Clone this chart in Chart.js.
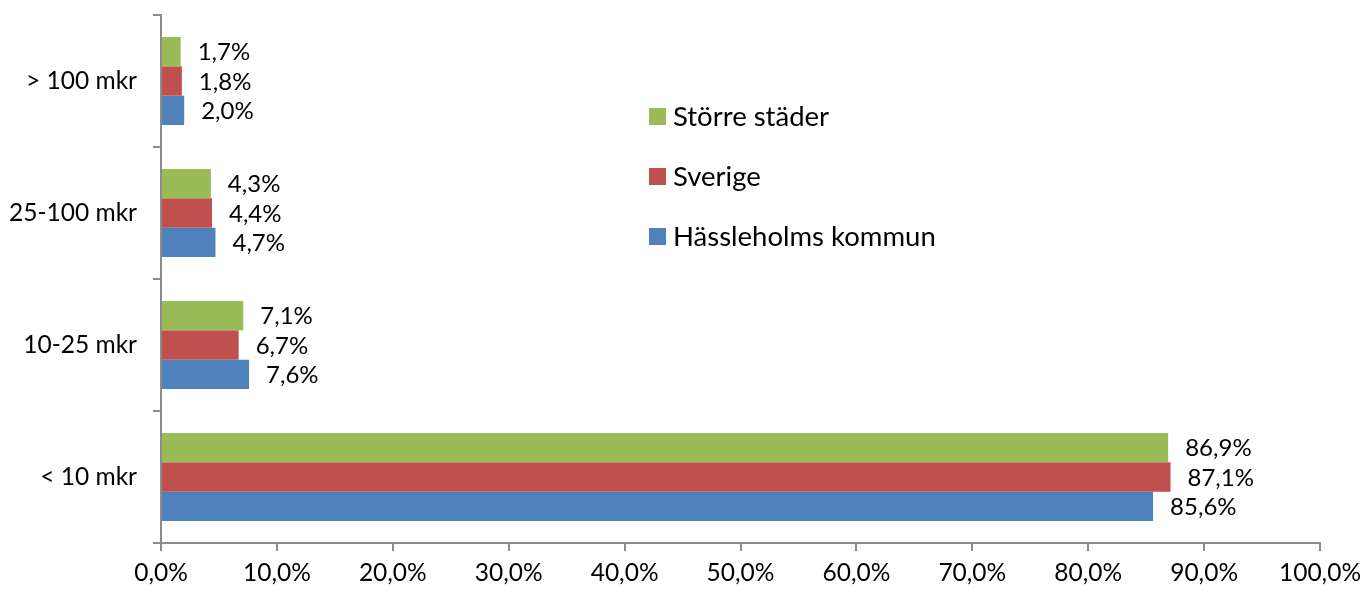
<!DOCTYPE html>
<html>
<head>
<meta charset="utf-8">
<script src="https://cdn.jsdelivr.net/npm/chart.js@4/dist/chart.umd.min.js"></script>
<style>
html,body{margin:0;padding:0;background:#fff;}
#wrap{width:1364px;height:590px;position:relative;}
</style>
</head>
<body>
<div id="wrap"><canvas id="c" width="1364" height="590"></canvas></div>
<script>
const categories = ['> 100 mkr', '25-100 mkr', '10-25 mkr', '< 10 mkr'];
const storreStader = [1.7, 4.3, 7.1, 86.9];
const sverige = [1.8, 4.4, 6.7, 87.1];
const hassleholm = [2.0, 4.7, 7.6, 85.6];
const seriesNames = ['Större städer', 'Sverige', 'Hässleholms kommun'];
const xTicks = [0, 10, 20, 30, 40, 50, 60, 70, 80, 90, 100];

const FONT = 'Lato, "Open Sans", sans-serif';
const colors = ['#9BBB59', '#C0504D', '#4F81BD'];
const fmt = v => v.toFixed(1).replace('.', ',') + '%';

const valueLabels = {
  id: 'valueLabels',
  afterDatasetsDraw(chart) {
    const ctx = chart.ctx;
    ctx.save();
    ctx.font = '24px ' + FONT;
    ctx.fillStyle = '#000';
    ctx.textAlign = 'left';
    ctx.textBaseline = 'middle';
    chart.data.datasets.forEach((ds, i) => {
      chart.getDatasetMeta(i).data.forEach((bar, j) => {
        ctx.fillText(fmt(ds.data[j]), bar.x + 17, bar.y + 1);
      });
    });
    ctx.restore();
  }
};

const customLegend = {
  id: 'customLegend',
  afterDraw(chart) {
    const ctx = chart.ctx;
    ctx.save();
    ctx.font = '27.5px ' + FONT;
    ctx.textBaseline = 'middle';
    ctx.textAlign = 'left';
    seriesNames.forEach((name, i) => {
      const cy = 116 + i * 60;
      ctx.fillStyle = colors[i];
      ctx.fillRect(649, cy - 8, 17, 17);
      ctx.fillStyle = '#000';
      ctx.fillText(name, 673, cy + 1);
    });
    ctx.restore();
  }
};

new Chart(document.getElementById('c'), {
  type: 'bar',
  data: {
    labels: categories,
    datasets: [
      { label: seriesNames[0], data: storreStader, backgroundColor: colors[0] },
      { label: seriesNames[1], data: sverige, backgroundColor: colors[1] },
      { label: seriesNames[2], data: hassleholm, backgroundColor: colors[2] }
    ]
  },
  options: {
    indexAxis: 'y',
    responsive: false,
    animation: false,
    devicePixelRatio: 1,
    layout: { padding: { left: 0, right: 44, top: 15, bottom: 0 } },
    datasets: { bar: { categoryPercentage: 0.667, barPercentage: 1.0 } },
    plugins: { legend: { display: false }, tooltip: { enabled: false } },
    scales: {
      x: {
        min: 0, max: 100,
        afterBuildTicks(scale) { scale.ticks = xTicks.map(v => ({ value: v })); },
        afterFit(scale) {
          scale.height = 47;
          scale.paddingLeft = 0; scale.paddingRight = 0;
        },
        ticks: {
          callback: v => fmt(v),
          font: { family: FONT, size: 24.5 },
          color: '#000',
          padding: 7,
          maxRotation: 0,
          autoSkip: false
        },
        grid: { drawOnChartArea: false, tickLength: 8, color: '#8c8c8c', lineWidth: 2 },
        border: { color: '#8c8c8c', width: 2 }
      },
      y: {
        afterFit(scale) {
          scale.width = 161;
          scale.paddingTop = 0; scale.paddingBottom = 0;
        },
        ticks: {
          font: { family: FONT, size: 24.5 },
          color: '#000',
          padding: 16
        },
        grid: { offset: true, drawOnChartArea: false, tickLength: 8, color: '#8c8c8c', lineWidth: 2 },
        border: { color: '#8c8c8c', width: 2 }
      }
    }
  },
  plugins: [valueLabels, customLegend]
});
</script>
</body>
</html>
